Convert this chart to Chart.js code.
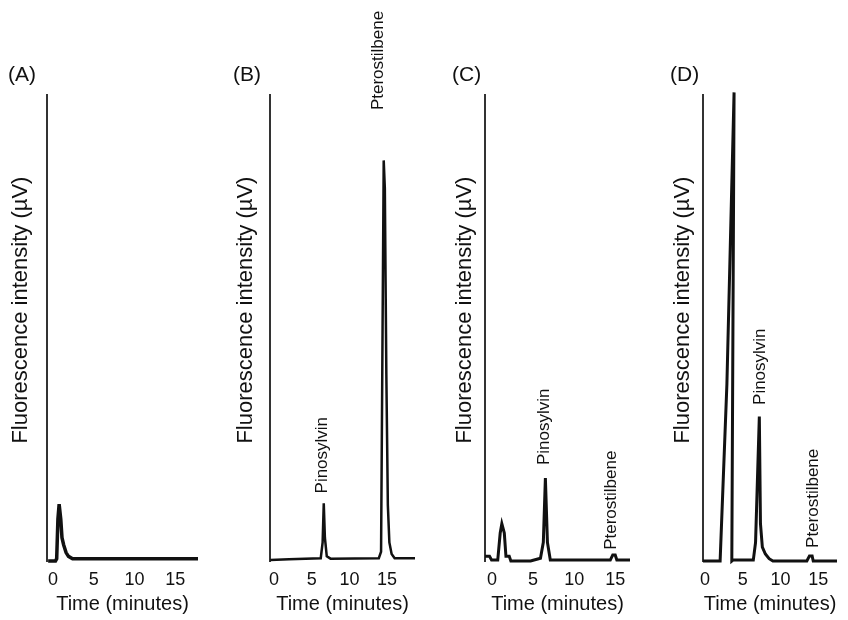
<!DOCTYPE html>
<html>
<head>
<meta charset="utf-8">
<script src="https://cdn.jsdelivr.net/npm/chart.js@4.4.1/dist/chart.umd.min.js"></script>
<style>
  html, body { margin: 0; padding: 0; background: #fff; }
  #wrap { position: relative; width: 848px; height: 620px; overflow: hidden; }
  #wrap canvas { position: absolute; top: 0; }
</style>
</head>
<body>
<div id="wrap">
  <canvas id="chartA"></canvas>
  <canvas id="chartB"></canvas>
  <canvas id="chartC"></canvas>
  <canvas id="chartD"></canvas>
</div>
<script>
// ---- data (time in minutes, signal in % of panel full scale) ----
var tickValues = [0, 5, 10, 15];

var aTime   = [-0.6, 0.3, 0.45, 0.6, 0.75, 0.95, 1.1, 1.3, 1.6, 1.9, 2.4, 17.8];
var aSignal = [0, 0, 0.5, 9, 12.2, 9, 5, 3.5, 1.8, 1.0, 0.5, 0.5];

var bTime   = [-0.5, 2, 6.2, 6.45, 6.6, 6.75, 7.0, 7.5, 13.9, 14.2, 14.4, 14.55, 14.7, 14.9, 15.1, 15.3, 15.6, 16.0, 18.7];
var bSignal = [0.2, 0.4, 0.6, 4, 12.4, 5, 1, 0.5, 0.6, 2, 50, 86, 80, 40, 12, 4, 1.5, 0.6, 0.6];

var cTime   = [-0.85, -0.3, -0.05, 0.7, 1.0, 1.2, 1.5, 1.7, 2.1, 2.3, 4.7, 5.9, 6.25, 6.5, 6.75, 7.1, 14.4, 14.7, 15.0, 15.2, 16.8];
var cSignal = [1.0, 1.0, 0.2, 0.2, 6.0, 8.0, 6.0, 1.0, 1.0, 0, 0, 0.6, 4, 17.8, 4, 0.2, 0.2, 1.3, 1.3, 0.2, 0.2];

var dTime   = [-0.27, 2.0, 2.9, 3.85, 3.55, 3.7, 6.4, 6.7, 7.2, 7.35, 7.6, 8.0, 8.5, 9.0, 13.5, 13.85, 14.2, 14.35, 17.5];
var dSignal = [0, 0, 38, 100.6, 0, 0.2, 0.2, 4, 31, 8, 3, 1.5, 0.5, 0, 0, 1.1, 1.1, 0, 0];

// peak labels: text, time, signal level where the text starts
var bLabels = ['Pinosylvin', 'Pterostilbene'];
var bLabelTime = [6.4, 13.8];
var bLabelLevel = [14.5, 96.8];

var cLabels = ['Pinosylvin', 'Pterostilbene'];
var cLabelTime = [6.4, 14.5];
var cLabelLevel = [20.6, 2.4];

var dLabels = ['Pinosylvin', 'Pterostilbene'];
var dLabelTime = [7.3, 14.3];
var dLabelLevel = [33.5, 2.8];

var FONT = "'Liberation Sans', Arial, sans-serif";
var INK = '#111';
var Y_TITLE = 'Fluorescence intensity (\u00b5V)';

// rotated peak names, placed through the chart scales
var peakLabels = {
  id: 'peakLabels',
  afterDatasetsDraw: function (chart, args, opts) {
    if (!opts.text) return;
    var ctx = chart.ctx;
    ctx.save();
    ctx.fillStyle = INK;
    ctx.font = '17px ' + FONT;
    ctx.textAlign = 'left';
    ctx.textBaseline = 'middle';
    for (var i = 0; i < opts.text.length; i++) {
      var x = chart.scales.x.getPixelForValue(opts.time[i]);
      var y = chart.scales.y.getPixelForValue(opts.level[i]);
      ctx.save();
      ctx.translate(x, y);
      ctx.rotate(-Math.PI / 2);
      ctx.fillText(opts.text[i], 0, 0);
      ctx.restore();
    }
    ctx.restore();
  }
};

// y title sits a bit above the middle of the axis in the original
var sideTitle = {
  id: 'sideTitle',
  afterDraw: function (chart) {
    var ctx = chart.ctx;
    var area = chart.chartArea;
    var yScale = chart.scales.y;
    ctx.save();
    ctx.fillStyle = INK;
    ctx.font = '22px ' + FONT;
    ctx.textAlign = 'center';
    ctx.textBaseline = 'middle';
    ctx.translate(yScale.left + 13, (area.top + area.bottom) / 2 - 18);
    ctx.rotate(-Math.PI / 2);
    ctx.fillText(Y_TITLE, 0, 0);
    ctx.restore();
  }
};

function toPoints(t, s) {
  return t.map(function (v, i) { return { x: v, y: s[i] }; });
}

function makePanel(id, cfg) {
  var canvas = document.getElementById(id);
  var padRight = 12;
  canvas.width = cfg.areaRight - cfg.left + padRight;
  canvas.height = 620;
  canvas.style.left = cfg.left + 'px';

  new Chart(canvas.getContext('2d'), {
    type: 'scatter',
    data: {
      datasets: [{
        data: toPoints(cfg.time, cfg.signal),
        showLine: true,
        borderColor: INK,
        borderWidth: cfg.lineWidth,
        pointRadius: 0,
        tension: 0,
        clip: false
      }]
    },
    options: {
      responsive: false,
      animation: false,
      layout: { padding: { left: 0, right: padRight, top: 0, bottom: 0 } },
      plugins: {
        legend: { display: false },
        tooltip: { enabled: false },
        title: {
          display: true,
          text: cfg.tag,
          align: 'start',
          color: INK,
          font: { family: FONT, size: 21, weight: 'normal' },
          padding: { top: 63, bottom: 7 }
        },
        peakLabels: { text: cfg.labels, time: cfg.labelTime, level: cfg.labelLevel }
      },
      scales: {
        x: {
          type: 'linear',
          min: cfg.xMin,
          max: cfg.xMax,
          grid: { display: false },
          border: { display: false },
          afterBuildTicks: function (scale) {
            scale.ticks = tickValues.map(function (v) { return { value: v }; });
          },
          afterFit: function (scale) { scale.height = 59; },
          ticks: {
            color: INK,
            font: { family: FONT, size: 18 },
            padding: 0,
            maxRotation: 0,
            autoSkip: false
          },
          title: {
            display: true,
            text: 'Time (minutes)',
            color: INK,
            font: { family: FONT, size: 20 },
            padding: { top: 0, bottom: 4 }
          }
        },
        y: {
          min: 0,
          max: 100,
          grid: { display: false },
          border: { display: true, color: '#333', width: 2 },
          ticks: { display: false },
          afterFit: function (scale) { scale.width = cfg.axisX - cfg.left; },
          title: { display: false }
        }
      }
    },
    plugins: [peakLabels, sideTitle]
  });
}

makePanel('chartA', {
  tag: '(A)', left: 8, axisX: 47, areaRight: 198, xMin: -0.74, xMax: 17.8,
  time: aTime, signal: aSignal, lineWidth: 3.5
});
makePanel('chartB', {
  tag: '(B)', left: 233, axisX: 270, areaRight: 415, xMin: -0.53, xMax: 18.7,
  time: bTime, signal: bSignal, lineWidth: 2.5,
  labels: bLabels, labelTime: bLabelTime, labelLevel: bLabelLevel
});
makePanel('chartC', {
  tag: '(C)', left: 452, axisX: 485, areaRight: 630, xMin: -0.85, xMax: 16.8,
  time: cTime, signal: cSignal, lineWidth: 3,
  labels: cLabels, labelTime: cLabelTime, labelLevel: cLabelLevel
});
makePanel('chartD', {
  tag: '(D)', left: 670, axisX: 703, areaRight: 837, xMin: -0.27, xMax: 17.5,
  time: dTime, signal: dSignal, lineWidth: 3,
  labels: dLabels, labelTime: dLabelTime, labelLevel: dLabelLevel
});
</script>
</body>
</html>
